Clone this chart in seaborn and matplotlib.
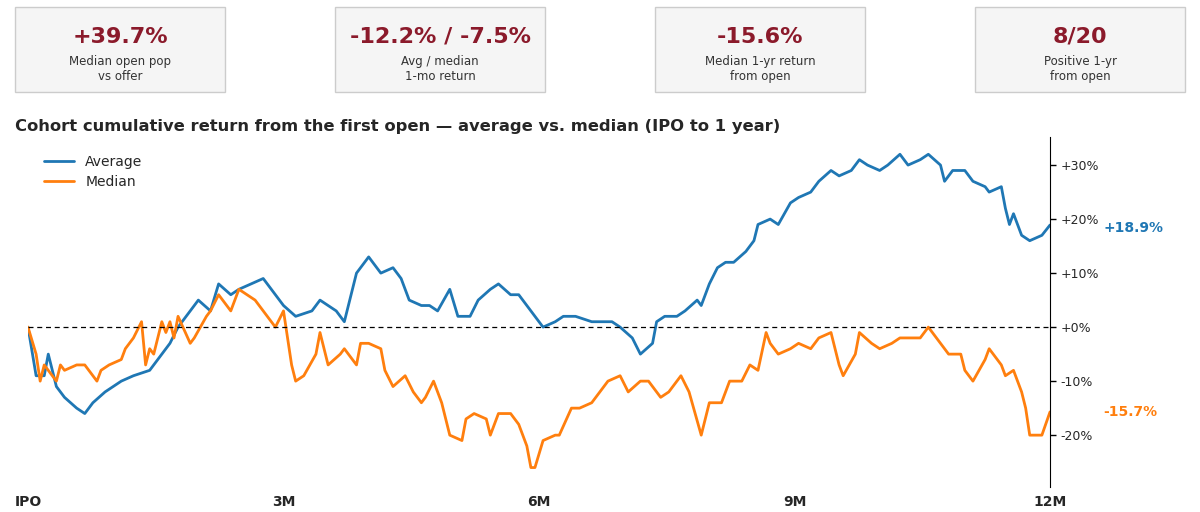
import numpy as np
import pandas as pd
import matplotlib.pyplot as plt
import seaborn as sns
from matplotlib.patches import FancyBboxPatch

# KPI cards
kpi_values = ['+39.7%', '-12.2% / -7.5%', '-15.6%', '8/20']
kpi_labels = ['Median open pop\nvs offer', 'Avg / median\n1-mo return',
              'Median 1-yr return\nfrom open', 'Positive 1-yr\nfrom open']

# cumulative return from first open (%), by trading day
avg_days = [0, 2, 4, 5, 7, 9, 12, 14, 16, 19, 23, 26, 30, 33, 35, 37, 40, 42, 45, 47, 50, 52, 55, 58,
            61, 63, 66, 70, 72, 76, 78, 81, 83, 84, 87, 90, 92, 94, 97, 99, 101, 104, 106, 109, 111,
            114, 116, 119, 121, 123, 125, 127, 130, 132, 135, 139, 141, 144, 146, 149, 151, 154, 155,
            157, 160, 162, 165, 166, 168, 170, 172, 174, 177, 179, 180, 183, 185, 188, 190, 193, 195,
            198, 200, 203, 205, 207, 210, 212, 215, 217, 220, 222, 225, 226, 228, 231, 233, 236, 237,
            240, 241, 242, 243, 245, 247, 250, 252]
avg_ret = [0, -9, -9, -5, -11, -13, -15, -16, -14, -12, -10, -9, -8, -5, -3, 0, 3, 5, 3, 8, 6, 7, 8, 9,
           6, 4, 2, 3, 5, 3, 1, 10, 12, 13, 10, 11, 9, 5, 4, 4, 3, 7, 2, 2, 5,
           7, 8, 6, 6, 4, 2, 0, 1, 2, 2, 1, 1, 1, 0, -2, -5, -3, 1,
           2, 2, 3, 5, 4, 8, 11, 12, 12, 14, 16, 19, 20, 19, 23, 24, 25, 27,
           29, 28, 29, 31, 30, 29, 30, 32, 30, 31, 32, 30, 27, 29, 29, 27, 26, 25,
           26, 22, 19, 21, 17, 16, 17, 18.9]

med_days = [0, 2, 3, 4, 5, 7, 8, 9, 12, 14, 15, 17, 18, 20, 23, 24, 26, 28, 29, 30, 31, 33, 34, 35, 36,
            37, 40, 41, 44, 45, 47, 50, 52, 54, 56, 58, 61, 63, 65, 66, 68, 71, 72, 74, 77, 78, 81, 82,
            84, 87, 88, 90, 93, 95, 97, 98, 100, 102, 104, 107, 108, 110, 113, 114, 116, 119, 121, 123,
            124, 125, 127, 130, 131, 134, 136, 139, 141, 143, 146, 148, 151, 153, 156, 158, 161, 163,
            166, 168, 171, 173, 176, 178, 180, 182, 183, 185, 188, 190, 193, 195, 198, 200, 201, 204,
            205, 208, 210, 213, 215, 217, 220, 222, 225, 227, 230, 231, 233, 236, 237, 240, 241, 243,
            245, 246, 247, 250, 252]
med_ret = [0, -5, -10, -7, -8, -10, -7, -8, -7, -7, -8, -10, -8, -7, -6, -4, -2, 1, -7, -4, -5, 1, -1, 1, -2,
           2, -3, -2, 2, 3, 6, 3, 7, 6, 5, 3, 0, 3, -7, -10, -9, -5, -1, -7, -5, -4, -7, -3,
           -3, -4, -8, -11, -9, -12, -14, -13, -10, -14, -20, -21, -17, -16, -17, -20, -16, -16, -18, -22,
           -26, -26, -21, -20, -20, -15, -15, -14, -12, -10, -9, -12, -10, -10, -13, -12, -9, -12,
           -20, -14, -14, -10, -10, -7, -8, -1, -3, -5, -4, -3, -4, -2, -1, -7, -9, -5,
           -1, -3, -4, -3, -2, -2, -2, 0, -3, -5, -5, -8, -10, -6, -4, -7, -9, -8,
           -12, -15, -20, -20, -15.7]

xtick_days = [0, 63, 126, 189, 252]
xtick_labels = ['IPO', '3M', '6M', '9M', '12M']
ytick_vals = [-20, -10, 0, 10, 20, 30]

blue = '#1f77b4'
orange = '#ff7f0e'
kpi_red = '#8b1a2b'

df = pd.concat([
    pd.DataFrame({'day': avg_days, 'ret': avg_ret, 'series': 'Average'}),
    pd.DataFrame({'day': med_days, 'ret': med_ret, 'series': 'Median'}),
])

sns.set_style('white')
plt.rcParams['font.family'] = ['DejaVu Sans']
fig = plt.figure(figsize=(12, 5.12), dpi=100)

# KPI cards along the top
card_left = [15, 335, 655, 975]
for left, val, lab in zip(card_left, kpi_values, kpi_labels):
    x0 = left / 1200
    w = 210 / 1200
    y0 = 1 - 92 / 512
    h = 85 / 512
    fig.patches.append(FancyBboxPatch((x0, y0), w, h, boxstyle='square,pad=0',
                                      transform=fig.transFigure, facecolor='#f5f5f5',
                                      edgecolor='#cccccc', linewidth=1))
    fig.text(x0 + w / 2, 1 - 37 / 512, val, ha='center', va='center',
             fontsize=16, fontweight='bold', color=kpi_red)
    fig.text(x0 + w / 2, 1 - 69 / 512, lab, ha='center', va='center',
             fontsize=8.5, color='#333333', linespacing=1.2)

ax = fig.add_axes([28 / 1200, 1 - 487 / 512, 1022 / 1200, 350 / 512])
sns.lineplot(data=df, x='day', y='ret', hue='series', palette=[blue, orange],
             linewidth=2, ax=ax, estimator=None)
ax.axhline(0, color='black', linestyle='--', linewidth=0.9, dashes=(4, 3))

ax.set_xlim(0, 252)
ax.set_ylim(-29.6, 35.2)
ax.set_xticks(xtick_days)
ax.set_xticklabels(xtick_labels, fontweight='bold', fontsize=10)
ax.xaxis.set_tick_params(length=0, pad=6)
ax.yaxis.tick_right()
ax.set_yticks(ytick_vals)
ax.set_yticklabels([f'{v:+d}%' for v in ytick_vals], fontsize=9)
ax.yaxis.set_tick_params(length=4, width=1, direction='out', color='black')
ax.set_xlabel('')
ax.set_ylabel('')
for s in ['top', 'left']:
    ax.spines[s].set_visible(False)
ax.spines['bottom'].set_visible(False)
ax.spines['right'].set_color('black')

ax.text(1.052, avg_ret[-1] - 0.5, f'{avg_ret[-1]:+.1f}%', transform=ax.get_yaxis_transform(),
        color=blue, fontweight='bold', fontsize=10, va='center', ha='left')
ax.text(1.052, med_ret[-1], f'{med_ret[-1]:+.1f}%', transform=ax.get_yaxis_transform(),
        color=orange, fontweight='bold', fontsize=10, va='center', ha='left')

ax.legend(loc='upper left', bbox_to_anchor=(0.003, 0.985), frameon=False, fontsize=10,
          handlelength=2.2, labelspacing=0.45)
fig.text(15 / 1200, 1 - 126 / 512,
         'Cohort cumulative return from the first open \u2014 average vs. median (IPO to 1 year)',
         fontsize=11.8, fontweight='bold', va='center', ha='left')

fig.savefig('out.png', dpi=100)
